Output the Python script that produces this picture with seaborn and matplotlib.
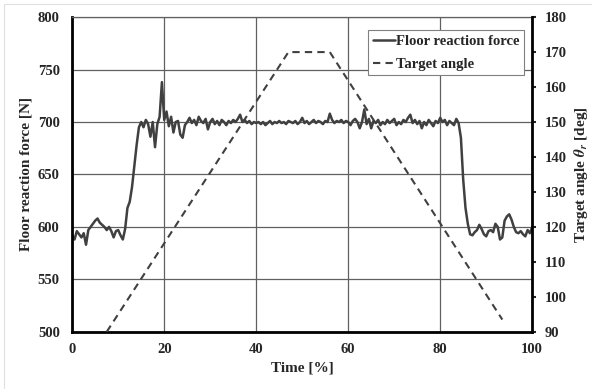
import numpy as np
import matplotlib
matplotlib.use('Agg')
import matplotlib.pyplot as plt
import seaborn as sns
from matplotlib.patches import Rectangle

time = np.arange(0, 100.5, 0.5)
force = [
    592, 588, 596, 593, 590, 594, 583, 597, 600, 603,
    606, 608, 604, 602, 600, 597, 600, 596, 590, 596,
    597, 592, 588, 598, 618, 624, 638, 658, 678, 695,
    700, 695, 702, 698, 686, 700, 676, 698, 705, 738,
    702, 710, 696, 705, 690, 700, 701, 688, 685, 697,
    700, 704, 699, 702, 697, 705, 701, 699, 703, 693,
    700, 703, 698, 701, 697, 702, 700, 697, 701, 699,
    702, 700, 703, 707, 700, 702, 699, 701, 698, 700,
    699, 700, 698, 700, 697, 699, 701, 698, 700, 699,
    701, 699, 700, 698, 701, 700, 699, 701, 698, 700,
    704, 699, 701, 698, 700, 702, 699, 701, 700, 698,
    701, 700, 708, 702, 699, 701, 700, 702, 699, 701,
    700, 697, 701, 703, 700, 694, 700, 712, 698, 703,
    694, 701, 699, 702, 697, 700, 698, 702, 699, 701,
    703, 697, 700, 698, 702, 700, 704, 707, 699, 702,
    698, 701, 694, 700, 697, 702, 699, 696, 701, 699,
    704, 700, 702, 697, 701, 699, 697, 703, 699, 685,
    645, 618, 603, 593, 592, 595, 597, 602, 598, 593,
    591, 596, 597, 595, 603, 600, 588, 590, 606, 610,
    612, 607, 600, 595, 594, 596, 593, 591, 597, 594,
    600,
]

# target angle profile
angle_time = [7.5, 47, 56, 93.5]
angle = [90, 170, 170, 93.5]

sns.set_style('white')
plt.rcParams['font.family'] = ['Liberation Serif', 'DejaVu Serif']
plt.rcParams['font.weight'] = 'bold'
plt.rcParams['mathtext.fontset'] = 'stix'

fig = plt.figure(figsize=(5.92, 3.89), dpi=100)
fig.patches.append(Rectangle((0.007, -0.01), 1.0, 1.0, transform=fig.transFigure,
                             fill=False, edgecolor='#e0e0e0', lw=0.8))
ax = fig.add_axes([0.122, 0.147, 0.777, 0.809])

sns.lineplot(x=time, y=force, ax=ax, color='#404040', lw=1.8)
ax.set_xlim(0, 100)
ax.set_ylim(500, 800)
ax.set_xticks(range(0, 101, 20))
ax.set_yticks(range(500, 801, 50))
ax.grid(True, color='#606060', lw=0.9)
ax.tick_params(length=0, labelsize=10.5)
ax.tick_params(axis='y', pad=9)
ax.tick_params(axis='x', pad=8)
ax.set_xlabel('Time [%]', fontsize=11, fontweight='bold')
ax.set_ylabel('Floor reaction force [N]', fontsize=11, fontweight='bold')

ax2 = ax.twinx()
sns.lineplot(x=angle_time, y=angle, ax=ax2, color='#404040', lw=1.5, linestyle=(0, (3.5, 2.5)))
ax2.set_ylim(90, 180)
ax2.set_yticks(range(90, 181, 10))
ax2.tick_params(axis='y', direction='out', length=3, width=1.5, pad=6, labelsize=10.5)
ax2.set_ylabel(r'Target angle $\theta_r$ [deg]', fontsize=11, fontweight='bold')

for s in ['left', 'bottom']:
    ax.spines[s].set_color('black')
    ax.spines[s].set_linewidth(2)
ax.spines['right'].set_visible(False)
ax.spines['top'].set_color('#606060')
ax.spines['top'].set_linewidth(0.9)
for s in ['left', 'bottom', 'top']:
    ax2.spines[s].set_visible(False)
ax2.spines['right'].set_color('black')
ax2.spines['right'].set_linewidth(2)

handles = [ax.get_lines()[0], ax2.get_lines()[0]]
leg = ax2.legend(handles, ['Floor reaction force', 'Target angle'], loc='upper right',
                 bbox_to_anchor=(0.982, 0.958), borderaxespad=0, fancybox=False,
                 framealpha=1, edgecolor='#808080', fontsize=10.5, handlelength=1.5,
                 handletextpad=0.1, borderpad=0.3, labelspacing=0.65)
leg.get_frame().set_linewidth(0.8)

fig.savefig('out.png', dpi=100)
